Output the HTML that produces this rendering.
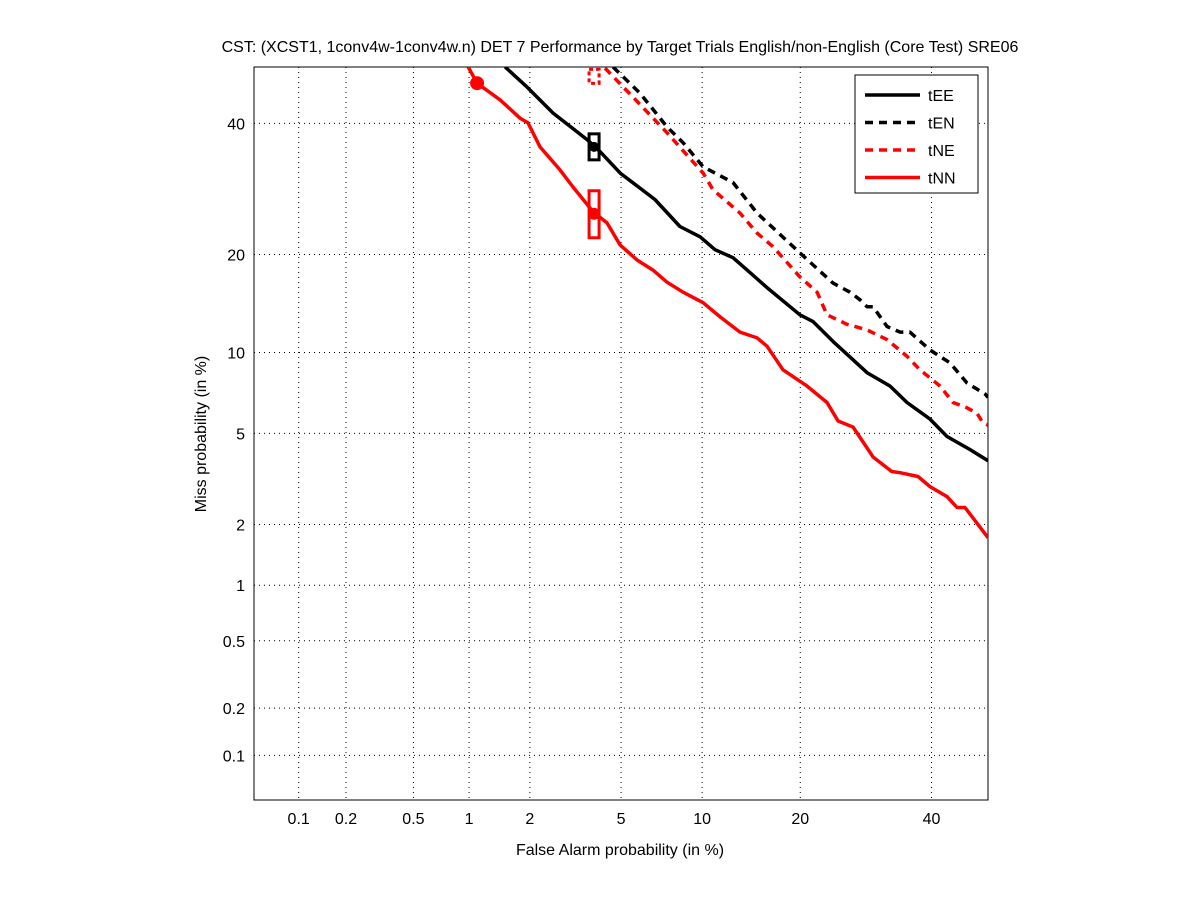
<!DOCTYPE html>
<html><head><meta charset="utf-8"><style>
body{margin:0;background:#fff;font-family:"Liberation Sans",sans-serif}
svg text{font-family:"Liberation Sans",sans-serif;font-size:16px}
</style></head><body>
<svg id="c" width="1201" height="900">
<rect width="1201" height="900" fill="#fff"/>
</svg>
<script>
const xTicks=[0.1,0.2,0.5,1,2,5,10,20,40];
const yTicks=[0.1,0.2,0.5,1,2,5,10,20,40];
const seriesNames=["tEE","tEN","tNE","tNN"];
const tEE_x=[1.52,1.94,2.56,3.62,4.10,4.96,6.77,8.36,9.84,11.05,12.65,14.30,16.09,19.96,21.65,24.35,29.39,33.03,35.83,39.74,42.70,46.77,50];
const tEE_y=[50,46.4,41.8,37.2,35.2,31.7,27.6,23.7,22.3,20.6,19.6,17.8,16.1,13.3,12.65,10.9,8.5,7.6,6.6,5.7,4.86,4.3,3.86];
const tEN_x=[4.64,5.94,7.51,8.58,10.08,12.65,15.03,19.96,24.35,26.80,28.30,29.39,30.33,32.53,34.68,36.32,39.74,43.25,46.25,49.5,50];
const tEN_y=[50,45.3,39.4,36.7,32.7,30.2,25.6,20.2,16.6,15.6,14.8,14.1,14.1,12.2,11.7,11.7,10.2,9.2,7.8,7.1,6.9];
const tNE_x=[4.30,5.58,7.51,10.08,10.87,13.31,15.03,16.75,19.96,22.18,23.52,26.37,29.39,32.53,35.83,38.02,41.49,43.76,46.25,48.04,49.1,50];
const tNE_y=[49.8,44.6,38.4,31.7,29.1,25.6,22.8,21.0,17.3,15.6,13.3,12.4,11.9,11.05,9.7,8.7,7.6,6.6,6.3,6.0,5.5,5.4];
const tNN_x=[0.99,1.10,1.44,1.80,1.96,2.23,2.75,3.14,3.83,4.38,4.96,5.79,6.66,7.51,8.58,10.08,11.49,13.31,15.03,16.09,17.91,20.87,23.52,25.08,27.26,30.33,33.3,34.68,37.68,39.74,42.70,44.47,45.90,50];
const tNN_y=[50,47.1,44.1,40.9,40.1,36.0,32.2,29.5,25.8,24.2,21.2,19.3,18.1,16.7,15.6,14.5,13.1,11.7,11.2,10.5,8.7,7.6,6.6,5.6,5.3,4.0,3.47,3.43,3.30,2.98,2.69,2.40,2.40,1.73];
const markerX=[1.10,3.87,3.87,3.87];
const markerY=[47.1,36.0,25.5,48.5];

function probit(p){
 const a=[-39.6968302866538,220.946098424521,-275.928510446969,138.357751867269,-30.6647980661472,2.50662827745924];
 const b=[-54.4760987982241,161.585836858041,-155.698979859887,66.8013118877197,-13.2806815528857];
 const c=[-0.00778489400243029,-0.322396458041136,-2.40075827716184,-2.54973253934373,4.37466414146497,2.93816398269878];
 const d=[0.00778469570904146,0.32246712907004,2.445134137143,3.75440866190742];
 const pl=0.02425;let q,r;
 if(p<pl){q=Math.sqrt(-2*Math.log(p));return (((((c[0]*q+c[1])*q+c[2])*q+c[3])*q+c[4])*q+c[5])/((((d[0]*q+d[1])*q+d[2])*q+d[3])*q+1);}
 if(p<=1-pl){q=p-0.5;r=q*q;return (((((a[0]*r+a[1])*r+a[2])*r+a[3])*r+a[4])*r+a[5])*q/(((((b[0]*r+b[1])*r+b[2])*r+b[3])*r+b[4])*r+1);}
 q=Math.sqrt(-2*Math.log(1-p));return -(((((c[0]*q+c[1])*q+c[2])*q+c[3])*q+c[4])*q+c[5])/((((d[0]*q+d[1])*q+d[2])*q+d[3])*q+1);
}
const L=254,R=988,T=67,B=800,zmin=probit(0.0005),zmax=0;
const X=v=>L+(probit(v/100)-zmin)/(zmax-zmin)*(R-L);
const Y=v=>B-(probit(v/100)-zmin)/(zmax-zmin)*(B-T);
const svg=document.getElementById('c');const NS='http://www.w3.org/2000/svg';
function mk(t,a,p){const e=document.createElementNS(NS,t);for(const k in a)e.setAttribute(k,a[k]);(p||svg).appendChild(e);return e;}

const grid=mk('g',{});


xTicks.forEach(v=>{const x=X(v);
 const l=mk('line',{x1:x,x2:x,y1:T,y2:B,stroke:'#000','stroke-width':1,'stroke-dasharray':'1,4'},grid);
 
 
 const t=mk('text',{x:x,y:824,'text-anchor':'middle'});t.textContent=v;
 
 
});
yTicks.forEach(v=>{const y=Y(v);
 const l=mk('line',{x1:L,x2:R,y1:y,y2:y,stroke:'#000','stroke-width':1,'stroke-dasharray':'1,4'},grid);
 
 
 const t=mk('text',{x:L-9,y:y+6,'text-anchor':'end'});t.textContent=v;
 
 
});
const ax=mk('rect',{x:L,y:T,width:R-L,height:B-T,fill:'none',stroke:'#000'});



const cp=mk('clipPath',{id:'cp'});mk('rect',{x:L,y:T,width:R-L,height:B-T},cp);
const series=[[tEE_x,tEE_y,'#000',''],[tEN_x,tEN_y,'#000','8,6'],[tNE_x,tNE_y,'#f00','8,6'],[tNN_x,tNN_y,'#f00','']];
series.forEach((s,i)=>{
 const d=s[0].map((v,j)=>(j?'L':'M')+X(v).toFixed(1)+','+Y(s[1][j]).toFixed(1)).join('');
 const p=mk('path',{d:d,fill:'none',stroke:s[2],'stroke-width':3.5,'stroke-dasharray':s[3],'stroke-linejoin':'round','clip-path':'url(#cp)'});
 
 
});
let m=mk('circle',{cx:X(markerX[0]),cy:Y(markerY[0]),r:7,fill:'#f00'});


m=mk('rect',{x:X(markerX[1])-5,y:Y(markerY[1])-13,width:10,height:26,fill:'none',stroke:'#000','stroke-width':3});


m=mk('circle',{cx:X(markerX[1]),cy:Y(markerY[1]),r:5,fill:'#000'});


m=mk('rect',{x:X(markerX[2])-5,y:Y(markerY[2])-23,width:10,height:47,fill:'none',stroke:'#f00','stroke-width':3});


m=mk('circle',{cx:X(markerX[2]),cy:Y(markerY[2]),r:6,fill:'#f00'});


m=mk('rect',{x:X(markerX[3])-5,y:Y(markerY[3])-6,width:10,height:14,fill:'none',stroke:'#f00','stroke-width':3,'stroke-dasharray':'4,3'});



const lg=mk('g',{});


mk('rect',{x:855,y:75,width:123,height:118,fill:'#fff',stroke:'#000'},lg);
series.forEach((s,i)=>{const y=95+i*27.5;
 mk('line',{x1:865,x2:920,y1:y,y2:y,stroke:s[2],'stroke-width':3.5,'stroke-dasharray':s[3]},lg);
 const t=mk('text',{x:928,y:y+6},lg);t.textContent=seriesNames[i];
 
 
});
let t=mk('text',{x:620,y:52,'text-anchor':'middle'});t.textContent='CST: (XCST1, 1conv4w-1conv4w.n) DET 7 Performance by Target Trials English/non-English (Core Test) SRE06';


t=mk('text',{x:620,y:855,'text-anchor':'middle'});t.textContent='False Alarm probability (in %)';


t=mk('text',{x:206,y:434,'text-anchor':'middle',transform:'rotate(-90 206 434)'});t.textContent='Miss probability (in %)';


</script>
</body></html>
